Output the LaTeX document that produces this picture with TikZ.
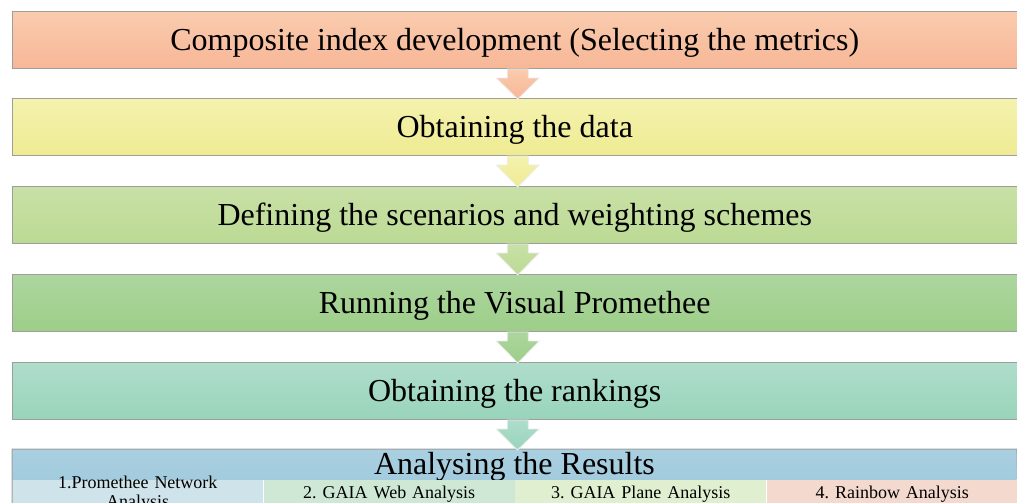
\documentclass[tikz,border=0pt]{standalone}
\usepackage{fontspec}
\setmainfont{Liberation Serif}
\usetikzlibrary{calc}
\frenchspacing
\definecolor{boxline}{HTML}{9E9E9E}
\definecolor{aTop}{HTML}{FACBAE}\definecolor{aBot}{HTML}{F7B797}
\definecolor{bTop}{HTML}{F4F2AE}\definecolor{bBot}{HTML}{EFEB93}
\definecolor{cTop}{HTML}{C8E0A6}\definecolor{cBot}{HTML}{BCDA94}
\definecolor{dTop}{HTML}{ADD69E}\definecolor{dBot}{HTML}{9DCE89}
\definecolor{eTop}{HTML}{AFDDCB}\definecolor{eBot}{HTML}{98D4BA}
\definecolor{fTop}{HTML}{A9D0E1}\definecolor{fBot}{HTML}{A2CBDD}
\definecolor{subA}{HTML}{CFE3EA}
\definecolor{subB}{HTML}{CFE8D6}
\definecolor{subC}{HTML}{E1EFD1}
\definecolor{subD}{HTML}{F4D9CF}
\begin{document}
\begin{tikzpicture}[x=1pt,y=-1pt,
  stage/.style={anchor=north west, minimum width=1004.5pt, minimum height=57pt,
    inner sep=0pt, draw=boxline, line width=1pt, font=\fontsize{32}{38}\selectfont,
    text height=24pt, text depth=3pt},
  subbox/.style={anchor=north west, minimum width=251.1pt, minimum height=26pt,
    inner sep=0pt, text width=240pt, align=center,
    font=\fontsize{18}{18.5}\selectfont, text height=14pt, text depth=2pt},
  flow/.style={draw=white!80!boxline, line width=0.8pt},
]
\useasboundingbox (0,0) rectangle (1017,503);
\begin{scope}
\clip (0,0) rectangle (1017,503);

% process stages
\node[stage, top color=aTop, bottom color=aBot] (b1) at (12,11)
  {Composite index development (Selecting the metrics)};
\node[stage, top color=bTop, bottom color=bBot] (b2) at (12,98)
  {Obtaining the data};
\node[stage, top color=cTop, bottom color=cBot] (b3) at (12,186)
  {Defining the scenarios and weighting schemes};
\node[stage, top color=dTop, bottom color=dBot] (b4) at (12,274)
  {Running the Visual Promethee};
\node[stage, top color=eTop, bottom color=eBot] (b5) at (12,362)
  {Obtaining the rankings};

% final stage with its four analyses
\node[anchor=north west, minimum width=1004.5pt, minimum height=30pt, inner sep=0pt,
  top color=fTop, bottom color=fBot, font=\fontsize{32}{38}\selectfont,
  text height=24pt, text depth=3pt]
  (b6) at (12,449) {Analysing the Results};
\node[subbox, fill=subA, text height=9pt, text depth=17pt] (s1) at (b6.south west)
  {1.Promethee Network\\Analysis};
\node[subbox, fill=subB] (s2) at (s1.north east) {2. GAIA Web Analysis};
\node[subbox, fill=subC] (s3) at (s2.north east) {3. GAIA Plane Analysis};
\node[subbox, fill=subD] (s4) at (s3.north east) {4. Rainbow Analysis};
\draw[boxline, line width=1pt] (s1.south west) |- (b6.north east) -- (s4.south east);

% block arrows between stages
\foreach \up/\dn/\ct/\cb in {b1/b2/aTop/aBot, b2/b3/bTop/bBot, b3/b4/cTop/cBot,
                             b4/b5/dTop/dBot, b5/b6/eTop/eBot}{
  \path[flow, top color=\ct, bottom color=\cb]
    ($(\up.south)+(-7.5,0)$) -- ($(\up.south)+(-7.5,9)$) -- ($(\up.south)+(-18.5,9)$)
    -- ($(\dn.north)+(3,1)$)
    -- ($(\up.south)+(24.5,9)$) -- ($(\up.south)+(13.5,9)$) -- ($(\up.south)+(13.5,0)$) -- cycle;
}
\end{scope}
\end{tikzpicture}
\end{document}
